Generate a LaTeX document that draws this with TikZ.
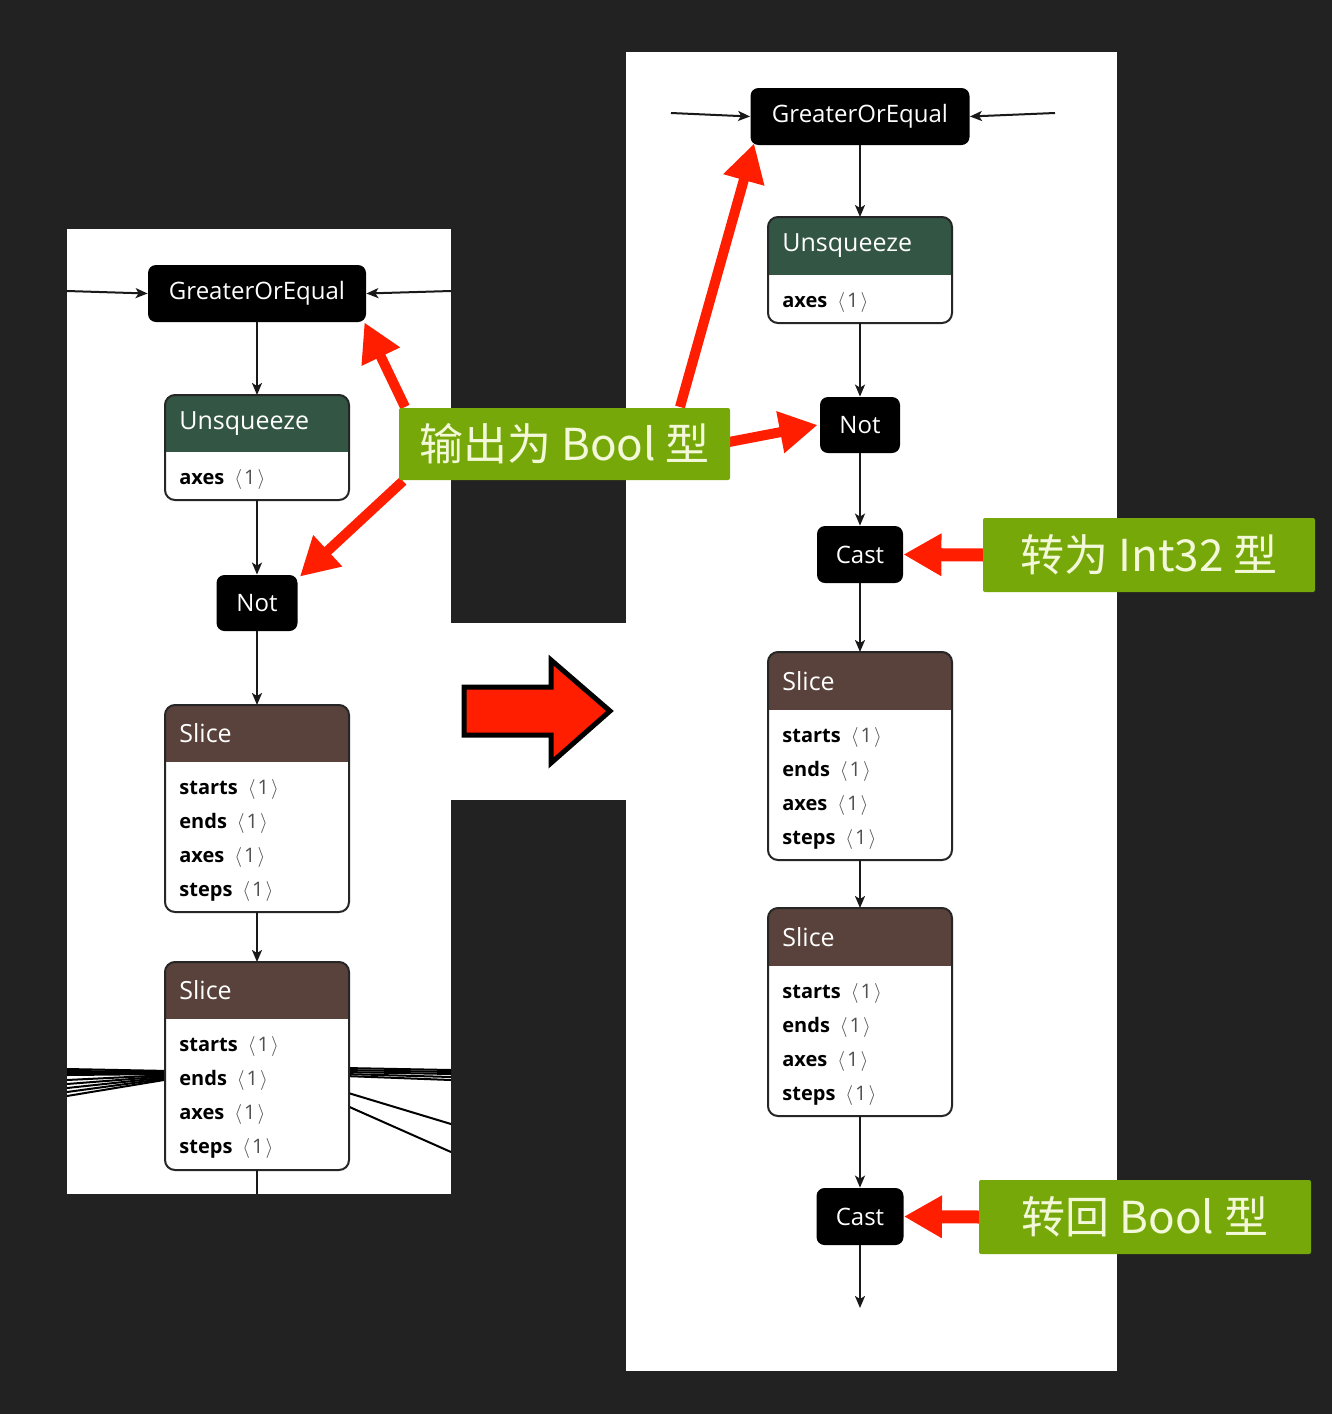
\documentclass[tikz,border=0pt]{standalone}
\usepackage{fontspec}
\setmainfont{Open Sans}
\newfontfamily\cjk{Noto Sans CJK SC}
\usetikzlibrary{arrows.meta,fit}
\definecolor{bg}{HTML}{222222}
\definecolor{hdrgreen}{RGB}{51,85,68}
\definecolor{hdrbrown}{RGB}{89,66,59}
\definecolor{redc}{HTML}{FF1E00}
\definecolor{labgreen}{HTML}{76A80A}
\definecolor{labtext}{HTML}{F2F8D8}
\definecolor{valgray}{HTML}{505050}
\newcommand\valone{{\color{valgray}\mdseries$\langle$\kern1pt 1\kern1pt$\rangle$}}
\newcommand\opbox[9]{%
  \coordinate (#1-nw) at (#2,#3);
  \coordinate (#1-se) at (#4,#5);
  \node[fit=(#1-nw)(#1-se), inner sep=0pt, outer sep=0pt] (#1) {};
  \begin{scope}
    \clip[rounded corners=5pt] (#2,#3) rectangle (#4,#5);
    \fill[white] (#2,#3) rectangle (#4,#5);
    \fill[#7] (#2,#3) rectangle (#4,#6);
  \end{scope}
  \draw[boxline, rounded corners=5pt] (#2,#3) rectangle (#4,#5);
  \node[titletext, anchor=west] (#1-t) at (#2+14, {(#3+#6)/2}) {#8};
  \foreach [count=\i] \k in {#9}
    \node[keytext, anchor=base west] (#1-r\i) at (#2+14, {#6+25+34.3*(\i-1)+7}) {\k\hspace{5pt}\valone};
}
\begin{document}
\begin{tikzpicture}[x=0.5pt,y=-0.5pt,
  boxline/.style={draw=black!85, line width=1pt},
  titletext/.style={text=white, font=\fontsize{12.5}{14}\selectfont, inner sep=0pt},
  keytext/.style={text=black, font=\bfseries\fontsize{10}{12}\selectfont, inner sep=0pt},
  opblk/.style={fill=black, rounded corners=4pt, text=white, font=\fontsize{12}{14}\selectfont, inner sep=0pt},
  conn/.style={draw=black!90, line width=1pt, -{Stealth[length=6pt,width=5pt,inset=1.5pt]}},
  plain/.style={draw=black!90, line width=1pt},
  bundle/.style={draw=black, line width=1pt},
  redarr/.style={draw=redc, line width=5pt, -{Triangle[length=19pt,width=20pt]}},
  redarrb/.style={draw=redc, line width=6.5pt, -{Triangle[length=19pt,width=20pt]}},
  greenlab/.style={fill=labgreen, rounded corners=1pt, text=labtext, inner sep=0pt, font=\cjk\fontsize{22}{26}\selectfont}
]
\useasboundingbox (0,0) rectangle (1332,1414);
\fill[bg] (0,0) rectangle (1332,1414);
% panels
\fill[white] (67,229) rectangle (451,1194);
\fill[white] (626,52) rectangle (1117,1371);
\fill[white] (451,623) rectangle (626,800);

% ---------------- left graph ----------------
\begin{scope}
\clip (67,229) rectangle (451,1194);
\foreach \a/\b in {1069/1071,1071/1072,1073/1073,1075/1074,1080/1075,1084/1076,1088/1077,1092/1078,1096/1079}
  \draw[bundle] (67,\a) -- (170,\b);
\foreach \a/\b in {1068/1070,1070/1072,1072/1074,1074/1077,1076/1080,1092/1124,1105/1152}
  \draw[bundle] (345,\a) -- (451,\b);
\end{scope}

\node[opblk, minimum width=109pt, minimum height=28.5pt] (lgoe) at (257,293.5) {GreaterOrEqual};
\opbox{lu}{165}{395}{349}{500}{452}{hdrgreen}{Unsqueeze}{axes}
\node[opblk, minimum width=40.5pt, minimum height=28pt] (lnot) at (257,603) {Not};
\opbox{ls1}{165}{705}{349}{912}{762}{hdrbrown}{Slice}{starts,ends,axes,steps}
\opbox{ls2}{165}{962}{349}{1170}{1019}{hdrbrown}{Slice}{starts,ends,axes,steps}

\coordinate (lin1) at (67,291);
\coordinate (lin2) at (451,291);
\coordinate (lend) at (257,1194);
\draw[conn] (lin1) -- (lgoe.west);
\draw[conn] (lin2) -- (lgoe.east);
\draw[conn] (lgoe) -- (lu);
\draw[conn] (lu) -- (lnot);
\draw[conn] (lnot) -- (ls1);
\draw[conn] (ls1) -- (ls2);
\draw[plain] (ls2) -- (lend);

% ---------------- right graph ----------------
\node[opblk, minimum width=109.5pt, minimum height=28.5pt] (rgoe) at (860,116.5) {GreaterOrEqual};
\opbox{ru}{768}{217}{952}{323}{275}{hdrgreen}{Unsqueeze}{axes}
\node[opblk, minimum width=40pt, minimum height=28pt] (rnot) at (860,425) {Not};
\node[opblk, minimum width=43pt, minimum height=28.5pt] (rc1) at (860,554.5) {Cast};
\opbox{rs1}{768}{652}{952}{860}{710}{hdrbrown}{Slice}{starts,ends,axes,steps}
\opbox{rs2}{768}{908}{952}{1116}{966}{hdrbrown}{Slice}{starts,ends,axes,steps}
\node[opblk, minimum width=43.5pt, minimum height=28.5pt] (rc2) at (860,1216.5) {Cast};

\coordinate (rin1) at (671,113);
\coordinate (rin2) at (1055,113);
\coordinate (rend) at (860,1308);
\draw[conn] (rin1) -- (rgoe.west);
\draw[conn] (rin2) -- (rgoe.east);
\draw[conn] (rgoe) -- (ru);
\draw[conn] (ru) -- (rnot);
\draw[conn] (rnot) -- (rc1);
\draw[conn] (rc1) -- (rs1);
\draw[conn] (rs1) -- (rs2);
\draw[conn] (rs2) -- (rc2);
\draw[conn] (rc2) -- (rend);

% ---------------- big arrow ----------------
\draw[fill=redc, draw=black, line width=2.5pt, line join=miter]
  (464,687) -- (551,687) -- (551,660) -- (610,711) -- (551,763) -- (551,735) -- (464,735) -- cycle;

% ---------------- red arrows, then labels on top ----------------
\coordinate (a1s) at (405,407);
\coordinate (a2s) at (403,481);
\coordinate (a3s) at (680,407);
\coordinate (a4s) at (729,442);
\coordinate (a5s) at (984,555);
\coordinate (a6s) at (980,1217);
\draw[redarr] (a1s) -- ([xshift=-1pt]lgoe.south east);
\draw[redarr] (a2s) -- ([xshift=1pt,yshift=-1pt]lnot.north east);
\draw[redarr] (a3s) -- ([xshift=2pt,yshift=1pt]rgoe.south west);
\draw[redarr] (a4s) -- ([xshift=-1pt]rnot.west);
\draw[redarrb] (a5s) -- (rc1.east);
\draw[redarrb] (a6s) -- (rc2.east);
\node[greenlab, minimum width=165.5pt, minimum height=36pt] (lab1) at (564.5,444) {输出为 Bool 型};
\node[greenlab, minimum width=166pt, minimum height=37pt] (lab2) at (1149,555) {转为 Int32 型};
\node[greenlab, minimum width=166pt, minimum height=37pt] (lab3) at (1145,1217) {转回 Bool 型};
\end{tikzpicture}
\end{document}
